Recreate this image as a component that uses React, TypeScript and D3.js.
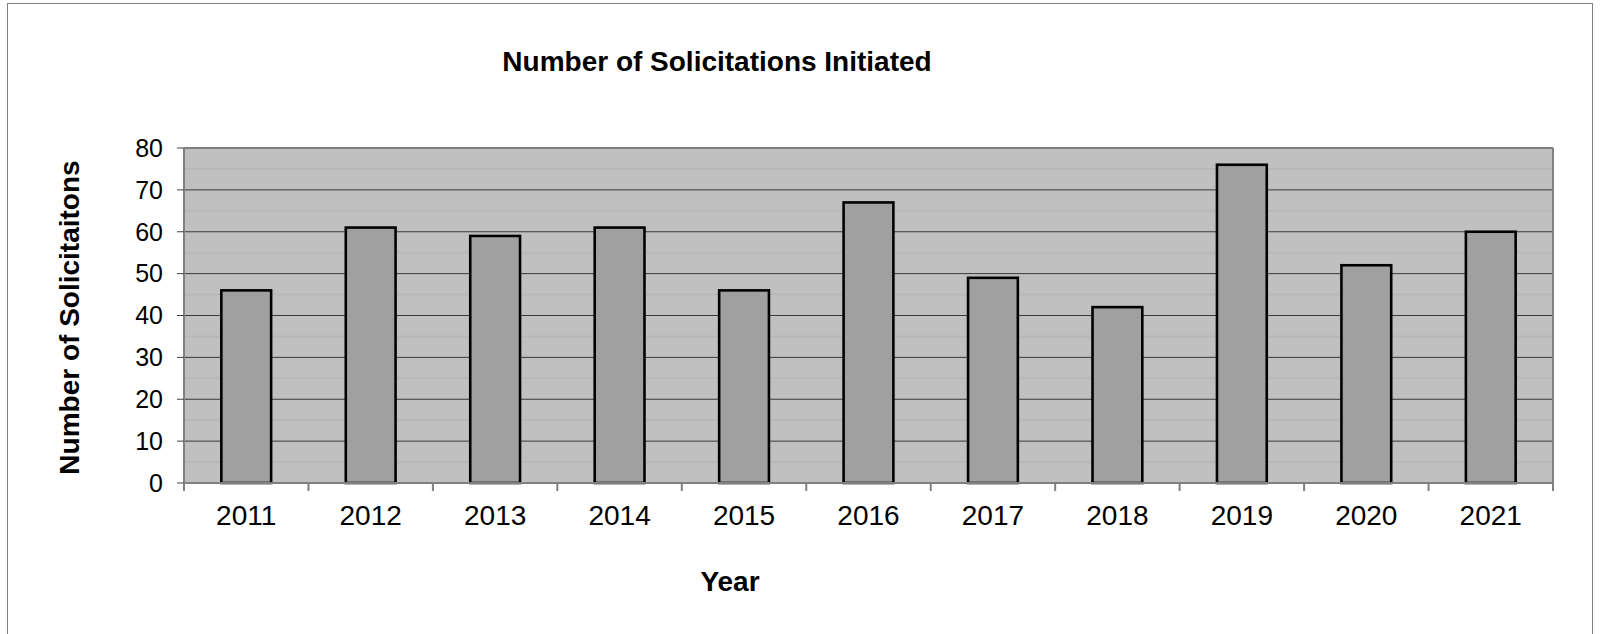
import React from "react";
import * as d3 from "d3";

const years = ["2011", "2012", "2013", "2014", "2015", "2016", "2017", "2018", "2019", "2020", "2021"];
const solicitations = [46, 61, 59, 61, 46, 67, 49, 42, 76, 52, 60];
const majorTicks = [0, 10, 20, 30, 40, 50, 60, 70, 80];
const minorTicks = [5, 15, 25, 35, 45, 55, 65, 75];

const W = 1600;
const H = 634;
const plot = { left: 184, right: 1553, top: 148, bottom: 483 };
const FONT = "'Liberation Sans', Arial, sans-serif";

export default function App() {
  const x = d3
    .scaleBand<string>()
    .domain(years)
    .range([plot.left, plot.right])
    .paddingInner(0.6)
    .paddingOuter(0.3);
  const xTickScale = d3.scalePoint<string>().domain([...years, "end"]).range([plot.left, plot.right]);
  const y = d3.scaleLinear().domain([0, 80]).range([plot.bottom, plot.top]);

  return (
    <svg width={W} height={H} style={{ position: "absolute", left: 0, top: 0, background: "#fff" }}>
      {/* outer border */}
      <rect x={7.5} y={3.5} width={1585} height={700} fill="none" stroke="#808080" strokeWidth={1} />

      {/* title */}
      <text x={717} y={71} textAnchor="middle" fontFamily={FONT} fontWeight="bold" fontSize={28} fill="#000">
        Number of Solicitations Initiated
      </text>

      {/* plot background */}
      <rect x={plot.left} y={plot.top} width={plot.right - plot.left} height={plot.bottom - plot.top} fill="#C0C0C0" />

      {/* minor gridlines */}
      {minorTicks.map((t) => (
        <line key={"mi" + t} x1={plot.left} x2={plot.right} y1={y(t)} y2={y(t)} stroke="#B8B8B8" strokeWidth={2} />
      ))}
      {/* major gridlines */}
      {majorTicks.slice(1, -1).map((t) => (
        <line key={"ma" + t} x1={plot.left} x2={plot.right} y1={y(t)} y2={y(t)} stroke="#3A3A3A" strokeWidth={1} />
      ))}

      {/* plot frame top/right */}
      <line x1={plot.left} x2={plot.right} y1={plot.top} y2={plot.top} stroke="#808080" strokeWidth={2} />
      <line x1={plot.right} x2={plot.right} y1={plot.top} y2={plot.bottom} stroke="#808080" strokeWidth={2} />

      {/* bars */}
      {years.map((yr, i) => (
        <rect
          key={yr}
          x={x(yr)}
          y={y(solicitations[i])}
          width={x.bandwidth()}
          height={y(0) - y(solicitations[i])}
          fill="#A0A0A0"
          stroke="#000"
          strokeWidth={2.6}
        />
      ))}

      {/* y axis */}
      <line x1={plot.left} x2={plot.left} y1={plot.top} y2={plot.bottom} stroke="#808080" strokeWidth={2} />
      {majorTicks.map((t) => (
        <g key={"yt" + t}>
          <line x1={plot.left - 7} x2={plot.left} y1={y(t)} y2={y(t)} stroke="#404040" strokeWidth={1} />
          <text x={163} y={y(t)} dy="0.35em" textAnchor="end" fontFamily={FONT} fontSize={25} fill="#000">
            {t}
          </text>
        </g>
      ))}

      {/* x axis */}
      <line x1={plot.left} x2={plot.right} y1={plot.bottom} y2={plot.bottom} stroke="#808080" strokeWidth={2} />
      {[...years, "end"].map((k) => (
        <line key={"xt" + k} x1={xTickScale(k)} x2={xTickScale(k)} y1={plot.bottom} y2={plot.bottom + 8} stroke="#808080" strokeWidth={2} />
      ))}
      {years.map((yr) => (
        <text
          key={"xl" + yr}
          x={(x(yr) as number) + x.bandwidth() / 2}
          y={525}
          textAnchor="middle"
          fontFamily={FONT}
          fontSize={28}
          fill="#000"
        >
          {yr}
        </text>
      ))}

      {/* axis titles */}
      <text x={730} y={591} textAnchor="middle" fontFamily={FONT} fontWeight="bold" fontSize={28} fill="#000">
        Year
      </text>
      <text
        transform={`translate(79, ${(plot.top + plot.bottom) / 2 + 2}) rotate(-90)`}
        textAnchor="middle"
        fontFamily={FONT}
        fontWeight="bold"
        fontSize={28}
        fill="#000"
      >
        Number of Solicitaitons
      </text>
    </svg>
  );
}
